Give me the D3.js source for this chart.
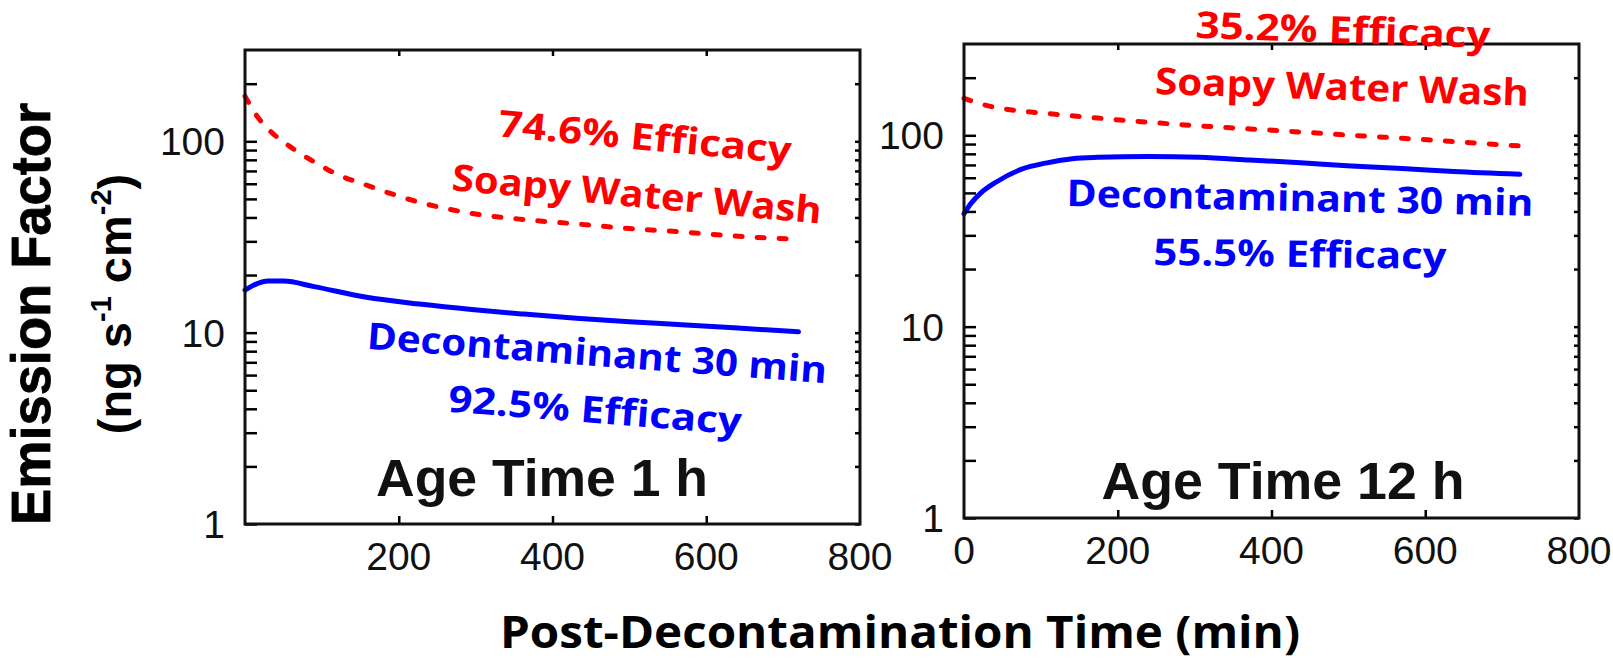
<!DOCTYPE html>
<html>
<head>
<meta charset="utf-8">
<script src="https://cdn.jsdelivr.net/npm/d3@7"></script>
<style>
  html, body { margin: 0; padding: 0; background: #fff; }
  svg { display: block; }
</style>
</head>
<body>
<svg id="chart" width="1613" height="663"></svg>
<script>
// ---------- DATA ----------
const panelNames = ["Age Time 1 h", "Age Time 12 h"];
const yTickValues = [1, 10, 100];
const yTickLabels = ["1", "10", "100"];
const yMinorValues = [2,3,4,5,6,7,8,9,20,30,40,50,60,70,80,90,200];
const xTicksLeft = [200, 400, 600, 800];
const xTicksRight = [0, 200, 400, 600, 800];

// Age Time 1 h
const tLeftRed  = [0, 17, 36, 60, 90, 117, 158, 227, 295, 363, 431, 500, 568, 636, 720];
const vLeftRed  = [172, 133, 110, 93, 78, 68, 59, 48, 42, 39, 37, 35, 33.6, 32, 30.7];
const tLeftBlue = [0, 15, 30, 50, 90, 158, 227, 295, 363, 431, 500, 568, 636, 720];
const vLeftBlue = [16.7, 18.0, 18.6, 18.6, 17.4, 15.3, 14.1, 13.2, 12.5, 11.9, 11.4, 11.0, 10.6, 10.1];

// Age Time 12 h
const tRightRed  = [0, 33, 60, 108, 174, 240, 306, 372, 438, 504, 570, 637, 722];
const vRightRed  = [156, 142, 136, 130, 123, 117, 112, 108, 104, 100, 96.5, 92.7, 88];
const tRightBlue = [0, 9, 22, 42, 75, 108, 141, 174, 240, 306, 372, 438, 504, 570, 637, 723];
const vRightBlue = [38.9, 44, 50, 57, 66.5, 71.8, 75.5, 76.7, 77.5, 76.7, 74.3, 71.8, 69.2, 67.1, 64.6, 62.5];

const labelsLeft  = ["74.6% Efficacy", "Soapy Water Wash", "Decontaminant 30 min", "92.5% Efficacy"];
const labelsRight = ["35.2% Efficacy", "Soapy Water Wash", "Decontaminant 30 min", "55.5% Efficacy"];

// ---------- LAYOUT ----------
const svg = d3.select("#chart");
svg.append("rect").attr("width", 1613).attr("height", 663).attr("fill", "#fff");

const RED = "#ff0000", BLUE = "#0000ff";
const tickFont = "'Liberation Sans', Arial, sans-serif";
const annFont = "'Open Sans', Lato, sans-serif";

const panels = [
  { x0: 245, x1: 860, y0: 50, y1: 524, xticks: xTicksLeft, name: panelNames[0],
    red: tLeftRed.map((t,i)=>[t, vLeftRed[i]]), blue: tLeftBlue.map((t,i)=>[t, vLeftBlue[i]]),
    ageX: 542, ageY: 496, ageLen: 332,
    ann: [
      { text: labelsLeft[0], color: RED,  cx: 645, cy: 137, rot: 5.3, len: 294 },
      { text: labelsLeft[1], color: RED,  cx: 637, cy: 194, rot: 5.2, len: 371 },
      { text: labelsLeft[2], color: BLUE, cx: 597, cy: 353, rot: 4.3, len: 461 },
      { text: labelsLeft[3], color: BLUE, cx: 595, cy: 410, rot: 4.5, len: 294 }
    ] },
  { x0: 964, x1: 1579, y0: 44, y1: 518, xticks: xTicksRight, name: panelNames[1],
    red: tRightRed.map((t,i)=>[t, vRightRed[i]]), blue: tRightBlue.map((t,i)=>[t, vRightBlue[i]]),
    ageX: 1283, ageY: 499, ageLen: 363,
    ann: [
      { text: labelsRight[0], color: RED,  cx: 1343, cy: 30,  rot: 2.0, len: 295 },
      { text: labelsRight[1], color: RED,  cx: 1342, cy: 87,  rot: 1.8, len: 374 },
      { text: labelsRight[2], color: BLUE, cx: 1300, cy: 198, rot: 1.2, len: 467 },
      { text: labelsRight[3], color: BLUE, cx: 1300, cy: 254, rot: 0.8, len: 293 }
    ] }
];

panels.forEach(p => {
  const x = d3.scaleLinear().domain([0, 800]).range([p.x0, p.x1]);
  const y = d3.scaleLog().domain([1, 300]).range([p.y1, p.y0]);
  const g = svg.append("g");

  // curves
  const line = d3.line().x(d => x(d[0])).y(d => y(d[1])).curve(d3.curveMonotoneX);
  g.append("path").attr("d", line(p.red)).attr("fill", "none")
    .attr("stroke", RED).attr("stroke-width", 5).attr("stroke-dasharray", "7,15")
    .attr("stroke-linecap", "round");
  g.append("path").attr("d", line(p.blue)).attr("fill", "none")
    .attr("stroke", BLUE).attr("stroke-width", 5).attr("stroke-linecap", "round");

  // ticks on y (left long, right short), inward
  const allY = yTickValues.concat(yMinorValues);
  const axL = d3.axisRight(y).tickValues(allY).tickSize(12).tickFormat("");
  const gL = g.append("g").attr("transform", `translate(${p.x0},0)`).call(axL);
  const axR = d3.axisLeft(y).tickValues(allY).tickSize(5).tickFormat("");
  const gR = g.append("g").attr("transform", `translate(${p.x1},0)`).call(axR);
  const axB = d3.axisTop(x).tickValues([200, 400, 600]).tickSize(8).tickFormat("");
  const gB = g.append("g").attr("transform", `translate(0,${p.y1})`).call(axB);
  const axT = d3.axisBottom(x).tickValues([200, 400, 600]).tickSize(6).tickFormat("");
  const gT = g.append("g").attr("transform", `translate(0,${p.y0})`).call(axT);
  [gL, gR, gB, gT].forEach(a => {
    a.select(".domain").remove();
    a.selectAll("line").attr("stroke", "#000").attr("stroke-width", 2.5);
  });

  // frame
  g.append("rect").attr("x", p.x0).attr("y", p.y0)
    .attr("width", p.x1 - p.x0).attr("height", p.y1 - p.y0)
    .attr("fill", "none").attr("stroke", "#111").attr("stroke-width", 3);

  // y tick labels
  g.selectAll(".ylab").data(yTickValues).join("text")
    .attr("x", p.x0 - 20).attr("y", d => y(d) + 14)
    .attr("text-anchor", "end").attr("font-family", tickFont).attr("font-size", 39)
    .attr("fill", "#111").text((d, i) => yTickLabels[i]);

  // x tick labels
  g.selectAll(".xlab").data(p.xticks).join("text")
    .attr("x", d => x(d)).attr("y", p.y1 + 46)
    .attr("text-anchor", "middle").attr("font-family", tickFont).attr("font-size", 39)
    .attr("fill", "#111").text(d => d);

  // Age time label
  g.append("text").attr("x", p.ageX).attr("y", p.ageY)
    .attr("text-anchor", "middle").attr("font-family", tickFont)
    .attr("font-weight", "bold").attr("font-size", 51)
    .attr("textLength", p.ageLen).attr("lengthAdjust", "spacingAndGlyphs")
    .attr("fill", "#111").text(p.name);

  // annotations
  p.ann.forEach(a => {
    svg.append("g").attr("transform", `translate(${a.cx},${a.cy}) rotate(${a.rot})`)
      .append("text").attr("x", 0).attr("y", 13)
      .attr("text-anchor", "middle").attr("font-family", annFont)
      .attr("font-weight", "bold").attr("font-size", 37)
      .attr("textLength", a.len).attr("lengthAdjust", "spacingAndGlyphs")
      .attr("fill", a.color).text(a.text);
  });
});

// y-axis title
const yt1 = svg.append("g").attr("transform", "translate(50,314) rotate(-90)");
yt1.append("text").attr("text-anchor", "middle").attr("font-family", tickFont)
  .attr("font-weight", "bold").attr("font-size", 56)
  .attr("textLength", 422).attr("lengthAdjust", "spacingAndGlyphs")
  .attr("stroke", "#000").attr("stroke-width", 0.8)
  .attr("fill", "#000").text("Emission Factor");

const yt2 = svg.append("g").attr("transform", "translate(131,304) rotate(-90)");
const t2 = yt2.append("text").attr("text-anchor", "middle").attr("font-family", tickFont)
  .attr("font-weight", "bold").attr("font-size", 47).attr("fill", "#000");
t2.append("tspan").text("(ng s");
t2.append("tspan").attr("font-size", 29).attr("dy", -20).text("-1");
t2.append("tspan").attr("dy", 20).text(" cm");
t2.append("tspan").attr("font-size", 29).attr("dy", -20).text("-2");
t2.append("tspan").attr("dy", 20).text(")");

// x-axis title
svg.append("text").attr("x", 900).attr("y", 648).attr("text-anchor", "middle")
  .attr("font-family", annFont).attr("font-weight", "bold").attr("font-size", 44)
  .attr("textLength", 800).attr("lengthAdjust", "spacingAndGlyphs")
  .attr("fill", "#000").text("Post-Decontamination Time (min)");
</script>
</body>
</html>
